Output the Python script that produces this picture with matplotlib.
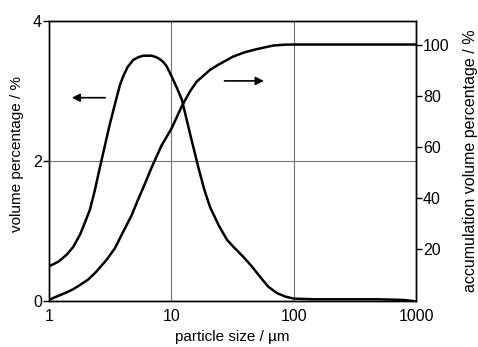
import numpy as np
import matplotlib
matplotlib.use("Agg")
import matplotlib.pyplot as plt

plt.rcParams['font.family'] = ['Liberation Sans', 'DejaVu Sans']

# particle size distribution (left axis, volume %)
size_pdf = [1.0, 1.2, 1.4, 1.58, 1.8, 2.0, 2.16, 2.35, 2.58, 2.85, 3.15, 3.58,
            3.8, 4.05, 4.4, 4.89, 5.4, 5.9, 6.9, 7.5, 8.08, 8.6, 9.15, 10.08,
            11.1, 12.2, 14.2, 16.6, 18.5, 20.7, 24.5, 28.5, 33, 38.6, 45, 53.2,
            62, 72.8, 85, 100, 150, 500, 800, 1000]
vol_pct = [0.49, 0.56, 0.66, 0.77, 0.95, 1.15, 1.3, 1.55, 1.87, 2.2, 2.53, 2.91,
           3.08, 3.21, 3.34, 3.44, 3.48, 3.5, 3.5, 3.48, 3.45, 3.41, 3.35, 3.2,
           3.04, 2.87, 2.39, 1.91, 1.6, 1.34, 1.07, 0.87, 0.75, 0.63, 0.5, 0.34,
           0.2, 0.11, 0.06, 0.03, 0.02, 0.02, 0.01, -0.01]

# cumulative distribution (right axis, %)
size_cum = [1.0, 1.1, 1.25, 1.4, 1.58, 1.8, 2.08, 2.4, 2.96, 3.46, 4.05, 4.7,
            5.34, 6.0, 6.9, 8.3, 10.08, 12.2, 14.2, 16.1, 20.7, 24.2, 32, 40,
            49.9, 68, 85, 100, 1000]
cum_pct = [0.3, 1.2, 2.3, 3.3, 4.5, 6.2, 8.2, 11, 16, 20.5, 27, 33,
           39.4, 45, 52, 60.5, 67.4, 76, 81.7, 85.5, 90.1, 92.1, 95.3, 97.0,
           98.2, 99.6, 99.95, 100, 100]

fig = plt.figure(figsize=(4.78, 3.47), dpi=100)
ax = fig.add_axes([49 / 478, 1 - 300.7 / 347, (416 - 49) / 478, 280 / 347])
ax2 = ax.twinx()

ax.plot(size_pdf, vol_pct, color='black', lw=1.8, solid_capstyle='round',
        solid_joinstyle='round')
ax2.plot(size_cum, cum_pct, color='black', lw=1.8, solid_capstyle='round',
         solid_joinstyle='round')

ax.set_xscale('log')
ax.set_xlim(1, 1000)
ax.set_ylim(0, 4)
ax2.set_ylim(0, 109.3)

ax.set_xticks([1, 10, 100, 1000])
ax.set_xticklabels(['1', '10', '100', '1000'])
ax.xaxis.set_minor_locator(matplotlib.ticker.NullLocator())
ax.set_yticks([0, 2, 4])
ax2.set_yticks([20, 40, 60, 80, 100])

ax.grid(True, which='major', color='0.45', lw=0.8)
ax.set_axisbelow(True)

for a in (ax, ax2):
    for s in a.spines.values():
        s.set_linewidth(1.0)
ax.tick_params(axis='x', length=0, pad=6, labelsize=11.5)
ax.tick_params(axis='y', length=4, width=1, pad=1, labelsize=11.5)
ax2.tick_params(axis='y', length=4, width=1, pad=1, labelsize=11.5)

ax.set_xlabel('particle size / µm', fontsize=11, labelpad=4)
ax.set_ylabel('volume percentage / %', fontsize=11)
ax.yaxis.set_label_coords(-0.068, 0.525)
ax2.set_ylabel('accumulation volume percentage / %', fontsize=11.5, labelpad=10)

# direction arrows
ax.annotate('', xy=(1.457, 2.9), xytext=(3.04, 2.9),
            arrowprops=dict(arrowstyle='-|>', color='black', lw=1.2, mutation_scale=12))
ax.annotate('', xy=(60.1, 3.14), xytext=(25.8, 3.14),
            arrowprops=dict(arrowstyle='-|>', color='black', lw=1.2, mutation_scale=12))

fig.savefig('out.png', dpi=100)
